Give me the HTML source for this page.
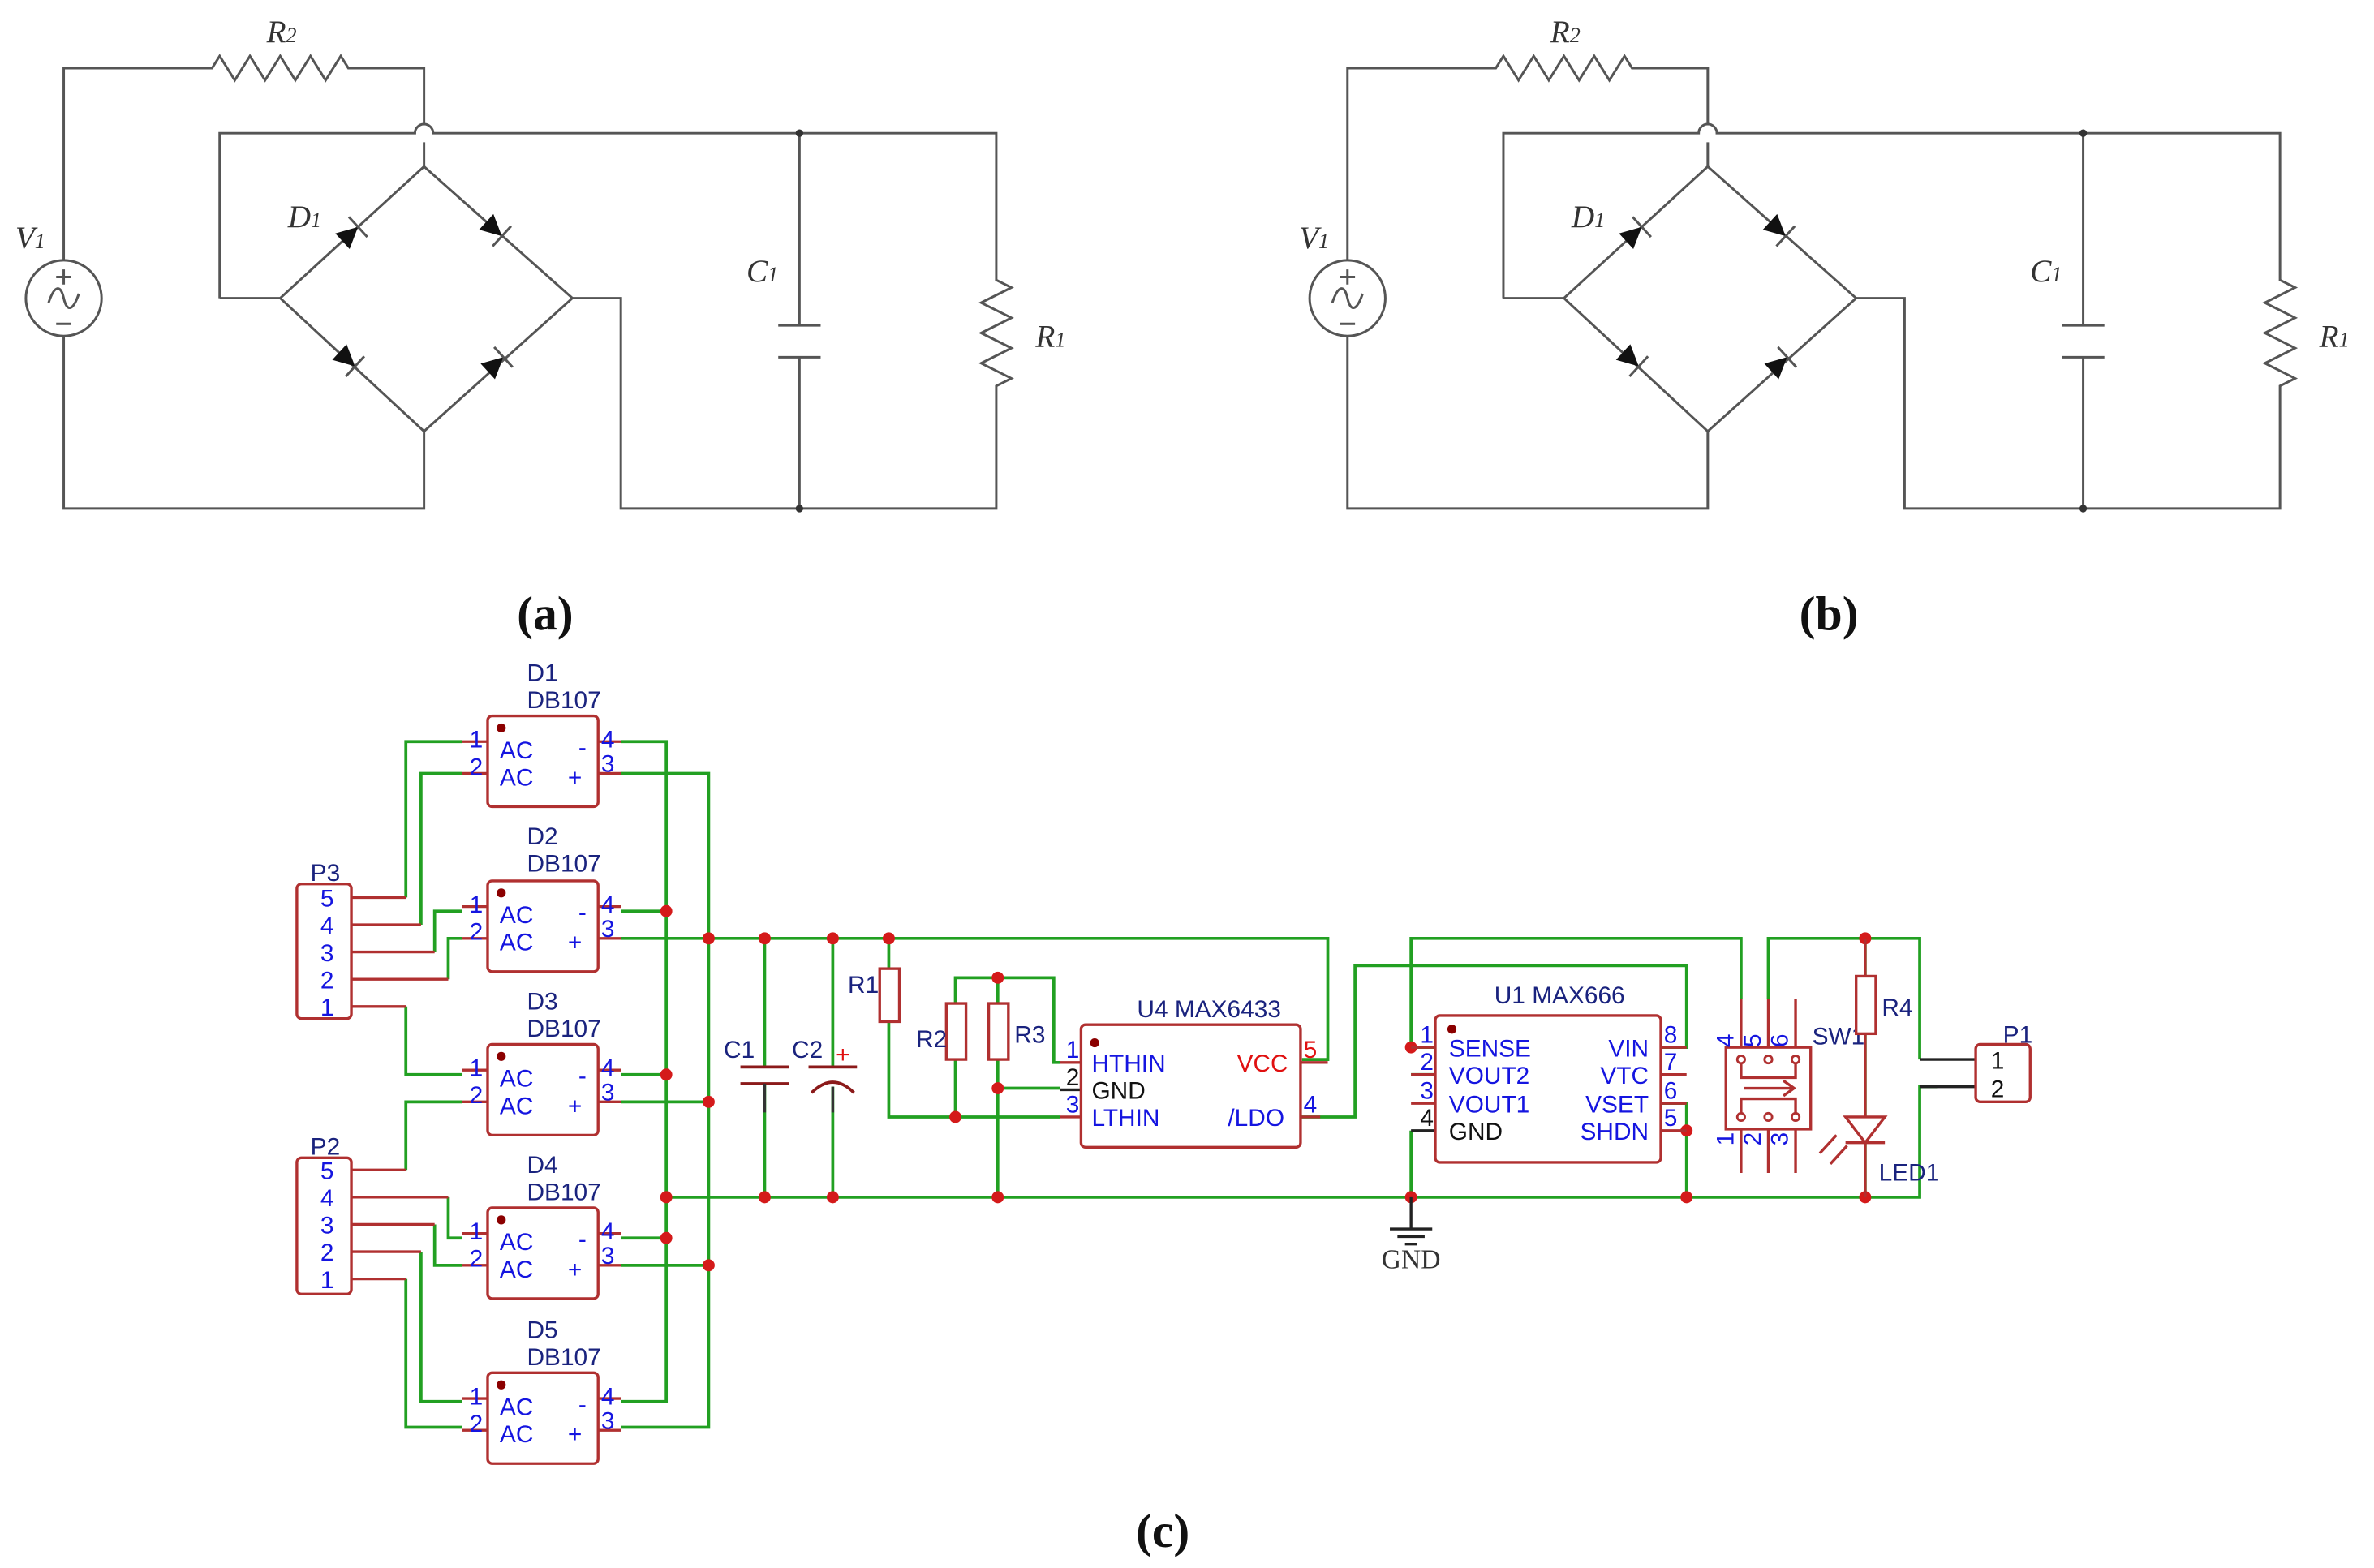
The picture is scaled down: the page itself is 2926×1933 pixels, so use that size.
<!DOCTYPE html>
<html><head><meta charset="utf-8"><style>
html,body{margin:0;padding:0;background:#fff;}
svg{display:block;}
.w{stroke:#555;stroke-width:1.6;fill:none;}
.g{stroke:#22a022;stroke-width:2;fill:none;}
.r{stroke:#b03030;stroke-width:1.8;fill:none;}
.bx{stroke:#b03030;stroke-width:1.8;fill:#fff;}
.k{stroke:#222;stroke-width:1.8;fill:none;}
.it{font-family:"Liberation Serif",serif;font-style:italic;font-size:21px;fill:#333;}
.cap{font-family:"Liberation Serif",serif;font-weight:bold;font-size:32px;fill:#111;}
.b{font-family:"Liberation Sans",sans-serif;font-size:16px;fill:#1515e0;}
.nv{font-family:"Liberation Sans",sans-serif;font-size:16px;fill:#1a237e;}
.bk{font-family:"Liberation Sans",sans-serif;font-size:16px;fill:#111;}
.rd{font-family:"Liberation Sans",sans-serif;font-size:16px;fill:#e01010;}
</style></head><body>
<svg width="2926" height="1933" viewBox="0 0 1568 1036" xmlns="http://www.w3.org/2000/svg">
<defs>
<g id="ckt">
 <path class="w" d="M42,172 V45 H140 l5,-8 l10,16 l10,-16 l10,16 l10,-16 l10,16 l10,-16 l10,16 l10,-16 l5,8 H280 V82 M280,94 V110"/>
 <path class="w" d="M145,197 V88 H274 a6,6 0 0 1 12,0 H658 V185 l10,5 l-20,10 l20,10 l-20,10 l20,10 l-20,10 l20,10 l-10,5 V336 H410 V197 H378"/>
 <path class="w" d="M145,197 H185 L280,110 L378,197 L280,285 L185,197"/>
 <path class="w" d="M42,222 V336 H280 V285"/>
 <path class="w" d="M528,88 V215 M514,215 H542 M514,236 H542 M528,236 V336"/>
 <circle cx="528" cy="88" r="2.5" fill="#333"/><circle cx="528" cy="336" r="2.5" fill="#333"/>
 <circle cx="42" cy="197" r="25" class="w"/>
 <path class="w" d="M42,178 v10 M37,183 h10 M37,214 h10 M32,200 c4,-12 8,-12 10,-3 c2,9 6,9 10,-3"/>
 <g transform="translate(232,154) rotate(-42.5)"><polygon points="-8,-7 -8,7 6,0" fill="#111"/><path class="w" d="M6,-9 V9"/></g>
 <g transform="translate(327,152) rotate(42.5)"><polygon points="-8,-7 -8,7 6,0" fill="#111"/><path class="w" d="M6,-9 V9"/></g>
 <g transform="translate(230,238) rotate(42.5)"><polygon points="-8,-7 -8,7 6,0" fill="#111"/><path class="w" d="M6,-9 V9"/></g>
 <g transform="translate(328,240) rotate(-42.5)"><polygon points="-8,-7 -8,7 6,0" fill="#111"/><path class="w" d="M6,-9 V9"/></g>
</g>
</defs>
<use href="#ckt"/>
<use href="#ckt" x="848"/>
<text class="it" x="176" y="28">R<tspan font-size="14">2</tspan></text>
<text class="it" x="10" y="164">V<tspan font-size="14">1</tspan></text>
<text class="it" x="190" y="150">D<tspan font-size="14">1</tspan></text>
<text class="it" x="493" y="186">C<tspan font-size="14">1</tspan></text>
<text class="it" x="684" y="229">R<tspan font-size="14">1</tspan></text>
<text class="it" x="1024" y="28">R<tspan font-size="14">2</tspan></text>
<text class="it" x="858" y="164">V<tspan font-size="14">1</tspan></text>
<text class="it" x="1038" y="150">D<tspan font-size="14">1</tspan></text>
<text class="it" x="1341" y="186">C<tspan font-size="14">1</tspan></text>
<text class="it" x="1532" y="229">R<tspan font-size="14">1</tspan></text>
<text class="cap" x="360" y="416" text-anchor="middle">(a)</text>
<text class="cap" x="1208" y="416" text-anchor="middle">(b)</text>
<text class="cap" x="768" y="1022" text-anchor="middle">(c)</text>

<g class="g">
 <path d="M268,593 V490 H305 M278,611 V511 H305 M287,629 V602 H305 M296,647 V620 H305 M268,665 V710 H305"/>
 <path d="M305,728 H268 V773 M296,791 V818 H305 M287,809 V836 H305 M278,827 V926 H305 M268,845 V943 H305"/>
 <path d="M410,490 H440 V926 H410 M410,511 H468 V943 H410"/>
 <path d="M410,602 H440 M410,710 H440 M410,818 H440 M410,728 H468 M410,836 H468"/>
 <path d="M410,620 H877 V700 H860"/>
 <path d="M440,791 H1268 V718 H1280 M1268,700 V620 H1168 V660"/>
 <path d="M505,620 V705 M505,716 V791 M550,620 V705 M550,718 V791"/>
 <path d="M587,620 V640 M587,675 V738 H700"/>
 <path d="M631,700 V738 M631,663 V646 H696 V702 H700 M659,646 V663 M659,700 V791 M659,719 H700"/>
 <path d="M859,738 H895 V638 H1114 V692 H1097"/>
 <path d="M932,791 V747 M932,692 V620 H1150 V660 M932,710 H948 M932,692 H948"/>
 <path d="M1097,729 H1114 V791"/>
 <path d="M1232,620 V645 M1232,683 V738 M1232,755 V791"/>
</g>
<g fill="#d41a1a">
 <circle cx="440" cy="602" r="4"/><circle cx="440" cy="710" r="4"/><circle cx="440" cy="791" r="4"/><circle cx="440" cy="818" r="4"/>
 <circle cx="468" cy="620" r="4"/><circle cx="468" cy="728" r="4"/><circle cx="468" cy="836" r="4"/>
 <circle cx="505" cy="620" r="4"/><circle cx="550" cy="620" r="4"/><circle cx="587" cy="620" r="4"/>
 <circle cx="505" cy="791" r="4"/><circle cx="550" cy="791" r="4"/><circle cx="659" cy="791" r="4"/>
 <circle cx="659" cy="646" r="4"/><circle cx="631" cy="738" r="4"/><circle cx="659" cy="719" r="4"/>
 <circle cx="932" cy="692" r="4"/><circle cx="932" cy="791" r="4"/><circle cx="1114" cy="791" r="4"/><circle cx="1114" cy="747" r="4"/>
 <circle cx="1232" cy="620" r="4"/><circle cx="1232" cy="791" r="4"/>
</g>
<g class="r">
 <path d="M232,593 H268 M232,611 H278 M232,629 H287 M232,647 H296 M232,665 H268"/>
 <path d="M232,773 H268 M232,791 H296 M232,809 H287 M232,827 H278 M232,845 H268"/>
</g>
<rect class="bx" x="196" y="584" width="36" height="89" rx="3"/>
<rect class="bx" x="196" y="765" width="36" height="90" rx="3"/>
<g class="b" text-anchor="middle">
 <text x="216" y="599">5</text><text x="216" y="617">4</text><text x="216" y="635">3</text><text x="216" y="653">2</text><text x="216" y="671">1</text>
 <text x="216" y="779">5</text><text x="216" y="797">4</text><text x="216" y="815">3</text><text x="216" y="833">2</text><text x="216" y="851">1</text>
</g>
<text class="nv" x="205" y="582">P3</text><text class="nv" x="205" y="763">P2</text>
<g id="db">
 <path class="r" d="M305,490 H322 M305,511 H322 M395,490 H410 M395,511 H410"/>
 <rect class="bx" x="322" y="473" width="73" height="60" rx="3"/>
 <circle cx="331" cy="481" r="3" fill="#8b0000"/>
</g>
<use href="#db" y="109"/><use href="#db" y="217"/><use href="#db" y="325"/><use href="#db" y="434"/>
<g class="b">
 <text x="310" y="494">1</text><text x="310" y="512">2</text><text x="330" y="501">AC</text><text x="330" y="519">AC</text><text x="382" y="499">-</text><text x="375" y="519">+</text><text x="397" y="494">4</text><text x="397" y="510">3</text>
 <text x="310" y="603">1</text><text x="310" y="621">2</text><text x="330" y="610">AC</text><text x="330" y="628">AC</text><text x="382" y="608">-</text><text x="375" y="628">+</text><text x="397" y="603">4</text><text x="397" y="619">3</text>
 <text x="310" y="711">1</text><text x="310" y="729">2</text><text x="330" y="718">AC</text><text x="330" y="736">AC</text><text x="382" y="716">-</text><text x="375" y="736">+</text><text x="397" y="711">4</text><text x="397" y="727">3</text>
 <text x="310" y="819">1</text><text x="310" y="837">2</text><text x="330" y="826">AC</text><text x="330" y="844">AC</text><text x="382" y="824">-</text><text x="375" y="844">+</text><text x="397" y="819">4</text><text x="397" y="835">3</text>
 <text x="310" y="928">1</text><text x="310" y="946">2</text><text x="330" y="935">AC</text><text x="330" y="953">AC</text><text x="382" y="933">-</text><text x="375" y="953">+</text><text x="397" y="928">4</text><text x="397" y="944">3</text>
</g>
<g class="nv">
 <text x="348" y="450">D1</text><text x="348" y="468">DB107</text>
 <text x="348" y="558">D2</text><text x="348" y="576">DB107</text>
 <text x="348" y="667">D3</text><text x="348" y="685">DB107</text>
 <text x="348" y="775">D4</text><text x="348" y="793">DB107</text>
 <text x="348" y="884">D5</text><text x="348" y="902">DB107</text>
</g>
<path d="M489,705 H521 M489,716 H521 M534,705 H566 M536,722 Q550,708 564,722" stroke="#8b1a1a" stroke-width="2" fill="none"/>
<path d="M505,716 V735 M550,718 V735" stroke="#333" stroke-width="1.8"/>
<text class="nv" x="478" y="699">C1</text><text class="nv" x="523" y="699">C2</text><text class="rd" x="552" y="702" fill="#b03030">+</text>
<rect class="bx" x="581" y="640" width="13" height="35"/>
<rect class="bx" x="625" y="663" width="13" height="37"/>
<rect class="bx" x="653" y="663" width="13" height="37"/>
<text class="nv" x="560" y="656">R1</text><text class="nv" x="605" y="692">R2</text><text class="nv" x="670" y="689">R3</text>
<path class="r" d="M700,702 H714 M700,738 H714 M859,702 H877 M859,738 H872"/>
<path class="k" d="M700,720 H714"/>
<rect class="bx" x="714" y="677" width="145" height="81" rx="3"/>
<circle cx="723" cy="689" r="3" fill="#8b0000"/>
<text class="nv" x="751" y="672">U4 MAX6433</text>
<text class="b" x="704" y="699">1</text><text class="bk" x="704" y="717">2</text><text class="b" x="704" y="735">3</text>
<text class="b" x="721" y="708">HTHIN</text><text class="bk" x="721" y="726">GND</text><text class="b" x="721" y="744">LTHIN</text>
<text class="rd" x="817" y="708">VCC</text><text class="b" x="811" y="744">/LDO</text>
<text class="rd" x="861" y="699">5</text><text class="b" x="861" y="735">4</text>
<path class="r" d="M932,692 H948 M932,710 H948 M932,729 H948 M1097,692 H1114 M1097,710 H1114 M1097,729 H1114 M1097,747 H1114"/>
<path class="k" d="M932,747 H948"/>
<rect class="bx" x="948" y="671" width="149" height="97" rx="3"/>
<circle cx="959" cy="680" r="3" fill="#8b0000"/>
<text class="nv" x="987" y="663">U1 MAX666</text>
<text class="b" x="938" y="689">1</text><text class="b" x="938" y="707">2</text><text class="b" x="938" y="726">3</text><text class="bk" x="938" y="744">4</text>
<text class="b" x="957" y="698">SENSE</text><text class="b" x="957" y="716">VOUT2</text><text class="b" x="957" y="735">VOUT1</text><text class="bk" x="957" y="753">GND</text>
<text class="b" x="1089" y="698" text-anchor="end">VIN</text><text class="b" x="1089" y="716" text-anchor="end">VTC</text><text class="b" x="1089" y="735" text-anchor="end">VSET</text><text class="b" x="1089" y="753" text-anchor="end">SHDN</text>
<text class="b" x="1099" y="689">8</text><text class="b" x="1099" y="707">7</text><text class="b" x="1099" y="726">6</text><text class="b" x="1099" y="744">5</text>
<path class="k" d="M932,791 V812 M918,812 H946 M923,817 H941 M928,822 H936"/>
<text x="932" y="838" text-anchor="middle" font-family="Liberation Serif,serif" font-size="18" fill="#333">GND</text>
<path class="r" d="M1150,660 V775 M1168,660 V775 M1186,660 V775"/>
<rect x="1140" y="692" width="56" height="54" fill="#fff" stroke="#b03030" stroke-width="1.8"/>
<path class="r" d="M1150,700 V712 H1186 V700 M1150,738 V726 H1186 V738 M1152,719 H1184 M1178,714 L1185,719 L1178,724"/>
<g fill="#fff" stroke="#b03030" stroke-width="1.5"><circle cx="1150" cy="700" r="2.5"/><circle cx="1168" cy="700" r="2.5"/><circle cx="1186" cy="700" r="2.5"/><circle cx="1150" cy="738" r="2.5"/><circle cx="1168" cy="738" r="2.5"/><circle cx="1186" cy="738" r="2.5"/></g>
<g class="b" font-size="13"><text transform="translate(1145,692) rotate(-90)">4</text><text transform="translate(1163,692) rotate(-90)">5</text><text transform="translate(1181,692) rotate(-90)">6</text><text transform="translate(1145,757) rotate(-90)">1</text><text transform="translate(1163,757) rotate(-90)">2</text><text transform="translate(1181,757) rotate(-90)">3</text></g>
<text class="nv" x="1197" y="690">SW1</text>
<path class="r" d="M1232,620 V645 M1232,683 V738 M1232,755 V791"/>
<rect class="bx" x="1226" y="645" width="13" height="38"/>
<path d="M1219,738 H1245 L1232,755 Z M1219,755 H1245" fill="none" stroke="#b03030" stroke-width="1.8"/>
<path class="r" d="M1213,750 L1202,762 M1220,757 L1209,769"/>
<text class="nv" x="1243" y="671">R4</text><text class="nv" x="1241" y="780">LED1</text>
<path class="k" d="M1268,700 H1305 M1268,718 H1305"/>
<rect class="bx" x="1305" y="690" width="36" height="38" rx="3"/>
<text class="bk" x="1315" y="706">1</text><text class="bk" x="1315" y="725">2</text>
<text class="nv" x="1323" y="689">P1</text>
</svg>
</body></html>
